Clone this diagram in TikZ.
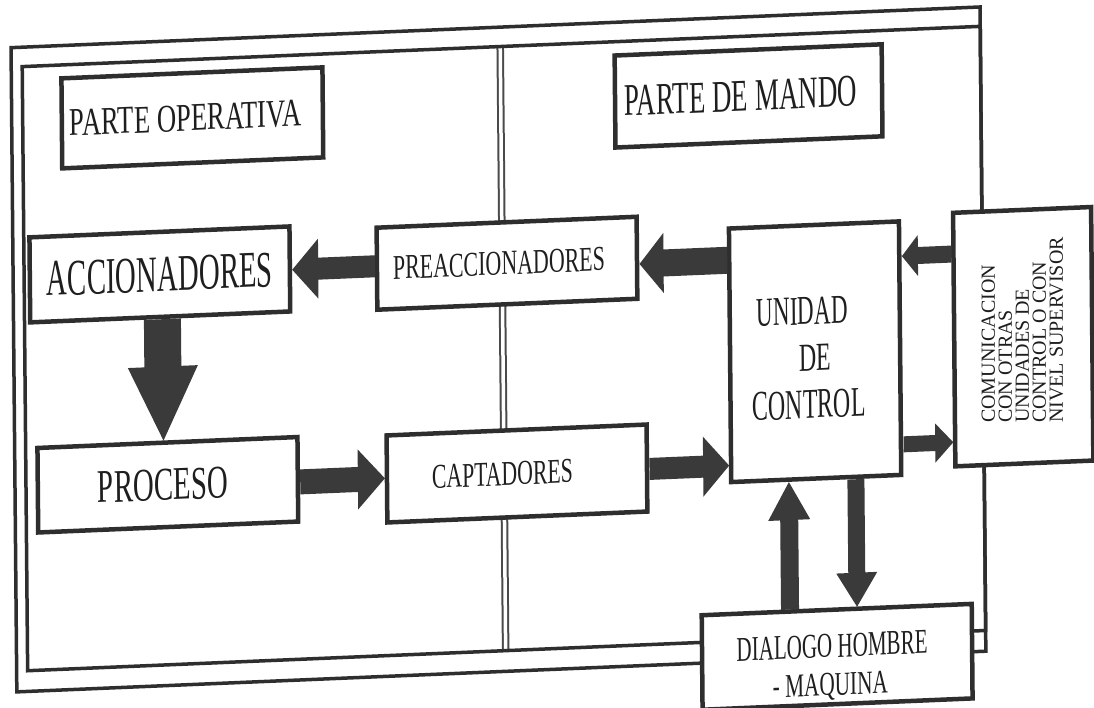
\documentclass[tikz,border=0pt]{standalone}
\usepackage{fontspec}
\setmainfont{Liberation Serif}
\usetikzlibrary{calc}
\definecolor{ink}{HTML}{2E2E2E}
\definecolor{arrowc}{HTML}{3A3A3A}
\definecolor{txt}{HTML}{1E1E1E}
\definecolor{divc}{HTML}{4A4A4A}
\newcommand{\tx}[3]{\resizebox{#1pt}{#2pt}{#3}}
\tikzset{
  box/.style={draw=ink, line width=4.5pt, fill=white, rectangle, inner sep=0pt, text=txt},
  frameline/.style={draw=ink, line width=3.5pt},
  divider/.style={draw=divc, line width=2pt, double=white, double distance=3.5pt},
  arrowfill/.style={fill=arrowc},
  scantilt/.style={cm={1,0.042,-0.009,1,(-3.19pt,-22.97pt)}, transform shape},
}
% horizontal block arrow: from anchor, to anchor, y, shaft half, head half, head length (signed)
\newcommand{\harr}[6]{%
  \coordinate (hy) at (0,#3);
  \coordinate (hs) at (#1 |- hy);
  \coordinate (ht) at (#2 |- hy);
  \fill[arrowfill] ($(hs)+(0,{-(#4)})$) -- ($(ht)+({-(#6)},{-(#4)})$) -- ($(ht)+({-(#6)},{-(#5)})$) -- (ht)
    -- ($(ht)+({-(#6)},{#5})$) -- ($(ht)+({-(#6)},{#4})$) -- ($(hs)+(0,{#4})$) -- cycle;}
% vertical block arrow: from anchor, to anchor, x, shaft half, head half, head length (signed)
\newcommand{\varr}[6]{%
  \coordinate (vx) at (#3,0);
  \coordinate (vs) at (vx |- #1);
  \coordinate (vt) at (vx |- #2);
  \fill[arrowfill] ($(vs)+({-(#4)},0)$) -- ($(vt)+({-(#4)},{-(#6)})$) -- ($(vt)+({-(#5)},{-(#6)})$) -- (vt)
    -- ($(vt)+({#5},{-(#6)})$) -- ($(vt)+({#4},{-(#6)})$) -- ($(vs)+({#4},0)$) -- cycle;}
\begin{document}
\begin{tikzpicture}[x=1pt, y=-1pt]
\useasboundingbox (0,0) rectangle (1094,708);
\fill[white] (0,0) rectangle (1094,708);
\begin{scope}[scantilt]
% divider and frame
\draw[divider] (503,44.7) -- (503,648.8);
\draw[frameline] (14,25.3) rectangle (983,669.5);
\draw[frameline] (25,44.7) rectangle (983,648.8);
% boxes
\node[box, minimum width=261pt, minimum height=90pt] (po) at (194.6,103.1)
  {\tx{232}{26}{PARTE OPERATIVA}\hspace*{13pt}};
\node[box, minimum width=267pt, minimum height=92pt] (pm) at (750.8,104.5)
  {\tx{233}{30}{PARTE DE MANDO}\hspace*{16pt}};
\node[box, minimum width=260pt, minimum height=85pt] (acc) at (160.7,258.2)
  {\tx{226}{34}{ACCIONADORES}};
\node[box, minimum width=260pt, minimum height=82pt] (pre) at (507.8,261.6)
  {\tx{212}{23}{PREACCIONADORES}\hspace*{16pt}};
\node[box, minimum width=260pt, minimum height=84.5pt] (proc) at (166.8,468.8)
  {\tx{130}{31}{PROCESO}\hspace*{10pt}};
\node[box, minimum width=260pt, minimum height=87pt] (cap) at (515.9,472.2)
  {\tx{141}{23}{CAPTADORES}\hspace*{29pt}};
\node[box, minimum width=170pt, minimum height=253.5pt, align=center,
      font=\fontsize{10}{47}\selectfont] (uc) at (815,363)
  {\rule{0pt}{39pt}\tx{91}{27}{UNIDAD}\hspace*{25pt}\\
   \tx{32}{26}{DE}\hspace*{12pt}\\
   \tx{113}{28}{CONTROL}\hspace*{13pt}};
\node[box, minimum width=138pt, minimum height=253.5pt] (com) at (1023.2,356.7) {};
\node[box, minimum width=270pt, minimum height=91.5pt, align=center,
      font=\fontsize{10}{38}\selectfont] (dh) at (834.3,668.9)
  {\rule{0pt}{47.5pt}\tx{191}{23}{DIALOGO HOMBRE}\hspace*{10pt}\\
   \tx{115}{22}{- MAQUINA}\rule[-9pt]{0pt}{9pt}\hspace*{14pt}};
% block arrows
\harr{uc.west}{pre.east}{267.8}{13.5}{30}{-24}
\harr{pre.west}{acc.east}{259}{11}{30}{-26}
\varr{acc.south}{proc.north}{162.8}{18.5}{35}{74}
\harr{proc.east}{cap.west}{471.3}{12.5}{30}{27}
\harr{cap.east}{uc.west}{473}{11}{30}{26}
\harr{com.west}{uc.east}{271}{8.5}{20.5}{-16}
\harr{uc.east}{com.west}{459.1}{8}{19.5}{18}
\varr{dh.north}{uc.south}{787.3}{9}{21}{-38}
\varr{uc.south}{dh.north}{854.3}{8.5}{20.5}{34}
\end{scope}
% upright rotated label inside the communication box
\node[rotate=90, anchor=west, align=left, inner sep=0pt, text=txt,
      font=\fontsize{20}{17}\selectfont] (comtext) at (1022.5,423)
  {COMUNICACION\\CON OTRAS\\UNIDADES DE\\CONTROL O CON\\NIVEL SUPERVISOR};
\end{tikzpicture}
\end{document}
